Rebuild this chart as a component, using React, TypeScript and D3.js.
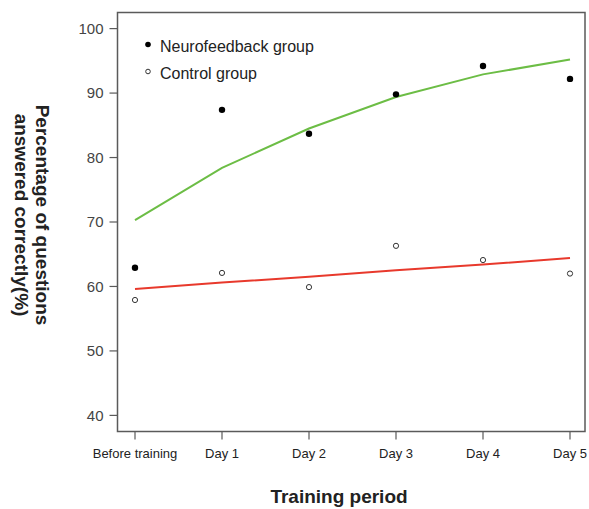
import * as d3 from 'd3';
import React from 'react';

const width = 589;
const height = 509;
const plot = { left: 117.5, right: 585, top: 12.5, bottom: 431.5 };
const axisColor = '#5a5a5a';
const green = '#6cbd45';
const red = '#e8392c';
const font = 'Arial, "Liberation Sans", sans-serif';

// training sessions on the x axis
const periods = ['Before training', 'Day 1', 'Day 2', 'Day 3', 'Day 4', 'Day 5'];
// observed scores (%)
const neurofeedback = [62.9, 87.4, 83.7, 89.8, 94.2, 92.2];
const control = [57.9, 62.1, 59.9, 66.3, 64.1, 62.0];
// fitted curves
const neurofeedbackFit = [70.3, 78.4, 84.5, 89.4, 92.9, 95.2];
const controlFit = [59.6, 60.6, 61.5, 62.5, 63.4, 64.4];
const yTicks = [40, 50, 60, 70, 80, 90, 100];

const xScale = d3
  .scalePoint<string>()
  .domain(periods)
  .range([plot.left + 17.5, plot.right - 15]);
const yScale = d3.scaleLinear().domain([37.5, 102.5]).range([plot.bottom, plot.top]);

const line = d3
  .line<number>()
  .x((d, i) => xScale(periods[i]) as number)
  .y(d => yScale(d));

export default function App() {
  return (
    <svg
      width={width}
      height={height}
      style={{ position: 'absolute', left: 0, top: 0, background: '#fff' }}
      fontFamily={font}
    >
      {/* frame */}
      <rect
        x={plot.left}
        y={plot.top}
        width={plot.right - plot.left}
        height={plot.bottom - plot.top}
        fill="none"
        stroke={axisColor}
        strokeWidth={1.5}
      />

      {/* y axis */}
      {yTicks.map(t => (
        <g key={t} transform={`translate(0, ${yScale(t)})`}>
          <line x1={plot.left - 8} x2={plot.left} stroke={axisColor} strokeWidth={1.2} />
          <text x={plot.left - 14} dy="0.35em" textAnchor="end" fontSize={15} fill="#444">
            {t}
          </text>
        </g>
      ))}

      {/* x axis */}
      {periods.map(p => (
        <g key={p} transform={`translate(${xScale(p)}, 0)`}>
          <line y1={plot.bottom} y2={plot.bottom + 8} stroke={axisColor} strokeWidth={1.2} />
          <text y={457.5} textAnchor="middle" fontSize={13} fill="#222">
            {p}
          </text>
        </g>
      ))}

      {/* fitted lines */}
      <path d={line(neurofeedbackFit) || ''} fill="none" stroke={green} strokeWidth={2} />
      <path d={line(controlFit) || ''} fill="none" stroke={red} strokeWidth={2} />

      {/* points */}
      {neurofeedback.map((v, i) => (
        <circle key={'n' + i} cx={xScale(periods[i])} cy={yScale(v)} r={3.2} fill="#000" />
      ))}
      {control.map((v, i) => (
        <circle
          key={'c' + i}
          cx={xScale(periods[i])}
          cy={yScale(v)}
          r={2.6}
          fill="#fff"
          stroke="#333"
          strokeWidth={1}
        />
      ))}

      {/* legend */}
      <circle cx={148} cy={44.5} r={2.8} fill="#000" />
      <text x={160} y={52} fontSize={16} fill="#222">
        Neurofeedback group
      </text>
      <circle cx={148} cy={71.5} r={2.3} fill="#fff" stroke="#333" strokeWidth={1} />
      <text x={160} y={78.5} fontSize={16} fill="#222">
        Control group
      </text>

      {/* axis titles */}
      <text x={339} y={503} textAnchor="middle" fontSize={19} fontWeight="bold" fill="#222">
        Training period
      </text>
      <g transform="translate(36, 215) rotate(90)">
        <text textAnchor="middle" fontSize={19} fontWeight="bold" fill="#222" y={0}>
          Percentage of questions
        </text>
        <text textAnchor="middle" fontSize={19} fontWeight="bold" fill="#222" y={21}>
          answered correctly(%)
        </text>
      </g>
    </svg>
  );
}
